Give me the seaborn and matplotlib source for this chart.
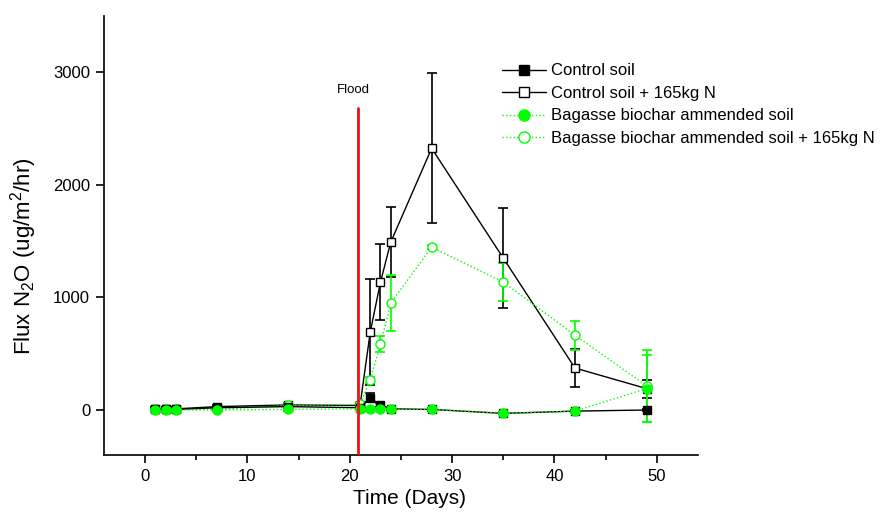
import numpy as np
import pandas as pd
import matplotlib
matplotlib.use("Agg")
import matplotlib.pyplot as plt
import seaborn as sns
from matplotlib.lines import Line2D

sns.set_style("white")
plt.rcParams['font.family'] = ['Liberation Sans', 'DejaVu Sans']
plt.rcParams['mathtext.fontset'] = 'custom'
plt.rcParams['mathtext.rm'] = 'Liberation Sans'
plt.rcParams['mathtext.it'] = 'Liberation Sans'
plt.rcParams['text.color'] = 'black'
plt.rcParams['axes.labelcolor'] = 'black'
plt.rcParams['xtick.color'] = 'black'
plt.rcParams['ytick.color'] = 'black'

days = [1, 2, 3, 7, 14, 21, 22, 23, 24, 28, 35, 42, 49]

control = [5, 5, 5, 20, 30, 20, 107, 45, 10, 5, -30, -10, 0]
control_err = [10, 10, 10, 10, 10, 10, 40, 15, 10, 10, 10, 10, 10]

control_n = [10, 10, 10, 30, 45, 40, 692, 1136, 1490, 2325, 1349, 373, 190]
control_n_err = [15, 15, 15, 15, 20, 20, 470, 340, 310, 665, 445, 165, 80]

bagasse = [0, 0, 0, 0, 5, 10, 5, 5, 5, 5, -30, -10, 190]
bagasse_err = [10, 10, 10, 10, 10, 10, 10, 10, 10, 10, 10, 10, 300]

bagasse_n = [5, 5, 5, 5, 40, 50, 266, 586, 950, 1446, 1136, 665, 215]
bagasse_n_err = [15, 15, 15, 15, 20, 20, 30, 70, 245, 20, 170, 128, 320]

labels = ["Control soil", "Control soil + 165kg N",
          "Bagasse biochar ammended soil", "Bagasse biochar ammended soil + 165kg N"]

GREEN = "#00ff00"

fig = plt.figure(figsize=(8.9, 5.25), dpi=100)
ax = fig.add_axes([0.117, 0.1333, 0.667, 0.8362])

series = [
    (control_n, control_n_err, 'black', '-', 's', 'white', 6.0),
    (bagasse_n, bagasse_n_err, GREEN, ':', 'o', 'white', 6.5),
    (control, control_err, 'black', '-', 's', 'black', 6.0),
    (bagasse, bagasse_err, GREEN, ':', 'o', GREEN, 6.5),
]

# flood line
ax.plot([20.8, 20.8], [-400, 2680], color='#ee1111', lw=2, zorder=5)
ax.text(20.4, 2790, "Flood", ha='center', va='bottom', fontsize=9.5)

for vals, errs, col, ls, mk, fc, ms in series:
    df = pd.DataFrame({"day": days, "flux": vals})
    ax.errorbar(days, vals, yerr=errs, fmt='none', ecolor=col, elinewidth=1.2,
                capsize=3.8, capthick=1.2, zorder=3)
    sns.lineplot(data=df, x="day", y="flux", ax=ax, color=col, linestyle=ls,
                 lw=1.0, marker=mk, markersize=ms,
                 markerfacecolor=fc, markeredgecolor=col, markeredgewidth=1.0,
                 zorder=4)

ax.set_xlim(-4, 54)
ax.set_ylim(-400, 3500)
ax.set_xticks([0, 10, 20, 30, 40, 50])
ax.set_xticks([5, 15, 25, 35, 45], minor=True)
ax.set_yticks([0, 1000, 2000, 3000])
ax.tick_params(axis='both', which='major', direction='out', length=6, width=1.2,
               labelsize=12, bottom=True, left=True, pad=4)
ax.tick_params(axis='x', which='minor', direction='out', length=3.5, width=1.2, bottom=True)
for s in ['top', 'right']:
    ax.spines[s].set_visible(False)
for s in ['left', 'bottom']:
    ax.spines[s].set_color('black')
    ax.spines[s].set_linewidth(1.2)

ax.set_xlabel("Time (Days)", fontsize=15, labelpad=4)
ax.set_ylabel("Flux N$_2$O (ug/m$^2$/hr)", fontsize=16, labelpad=10)
ax.xaxis.label.set_x(0.515)
ax.yaxis.label.set_y(0.453)

handles = [
    Line2D([], [], color='black', ls='-', lw=1, marker='s', markersize=7,
           markerfacecolor='black', markeredgecolor='black'),
    Line2D([], [], color='black', ls='-', lw=1, marker='s', markersize=7,
           markerfacecolor='white', markeredgecolor='black'),
    Line2D([], [], color=GREEN, ls=':', lw=1, marker='o', markersize=8,
           markerfacecolor=GREEN, markeredgecolor=GREEN),
    Line2D([], [], color=GREEN, ls=':', lw=1, marker='o', markersize=8,
           markerfacecolor='white', markeredgecolor=GREEN),
]
fig.legend(handles, labels, loc='upper left', bbox_to_anchor=(0.557, 0.892),
           frameon=False, fontsize=12, handlelength=2.6, handletextpad=0.3,
           labelspacing=0.45, borderaxespad=0)

fig.savefig("out.png", dpi=100)
